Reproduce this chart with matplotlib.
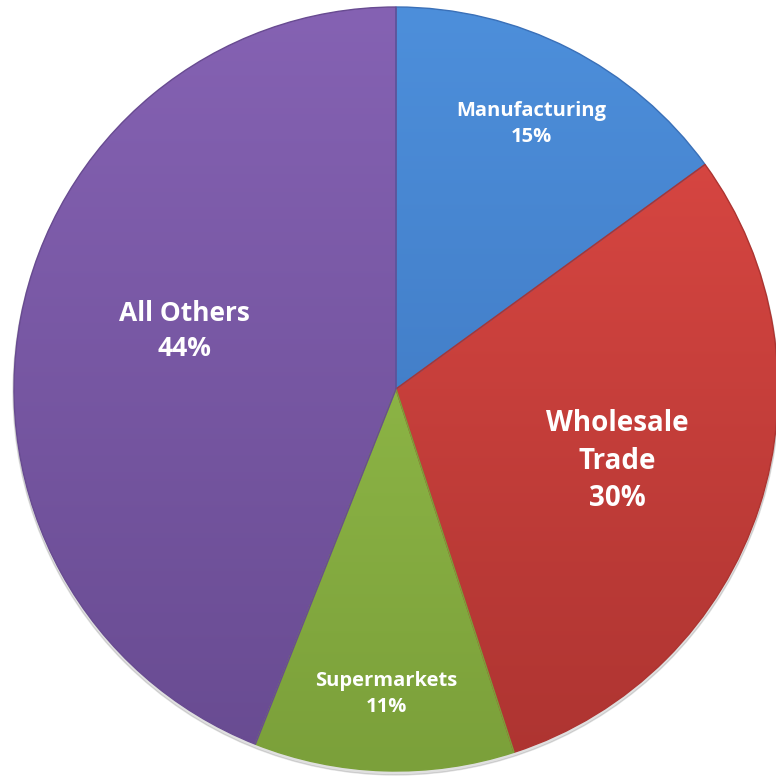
import numpy as np
import matplotlib.pyplot as plt
from matplotlib.colors import LinearSegmentedColormap

plt.rcParams['font.family'] = ['Open Sans', 'DejaVu Sans']

# Data
categories = ['Manufacturing', 'Wholesale\nTrade', 'Supermarkets', 'All Others']
shares = [15, 30, 11, 44]

# Styling (top colour, bottom colour) per slice, label placement and font size
top_colors = ['#4d8fdb', '#e04a45', '#9cc750', '#8562b3']
bottom_colors = ['#3a70b8', '#ad3431', '#7ba03a', '#684b91']
label_radius = [0.78, 0.61, 0.80, 0.575]
label_turn = [0, 0, 0, -4.5]   # degrees off the slice bisector
label_size = [14.5, 20, 14.5, 19]

W, H = 776, 778
cx, cy, R = 396, H - 389, 382

fig = plt.figure(figsize=(W / 100, H / 100), dpi=100)
ax = fig.add_axes([0, 0, 1, 1])

# faint shadow under the pie
shadow = plt.Circle((cx, cy - 3), R + 1, color='#000000', alpha=0.12, zorder=0.5)
ax.add_patch(shadow)

wedges, _ = ax.pie(shares, startangle=90, counterclock=False,
                   center=(cx, cy), radius=R,
                   wedgeprops=dict(linewidth=1.0))

ax.set_xlim(0, W)
ax.set_ylim(0, H)
ax.set_aspect('equal')
ax.axis('off')

# vertical gradient inside each wedge, Excel style
grad = np.linspace(0, 1, 256).reshape(-1, 1)
for w, top, bot in zip(wedges, top_colors, bottom_colors):
    w.set_edgecolor(bot)
    cmap = LinearSegmentedColormap.from_list('g', [bot, top])
    im = ax.imshow(grad, cmap=cmap, origin='lower', aspect='auto',
                   extent=(cx - R, cx + R, cy - R, cy + R), zorder=1.5)
    im.set_clip_path(w)
    w.set_zorder(2)
    w.set_fill(False)

# labels
for w, name, pct, r, turn, fs in zip(wedges, categories, shares,
                                     label_radius, label_turn, label_size):
    ang = np.deg2rad((w.theta1 + w.theta2) / 2 + turn)
    x = cx + r * R * np.cos(ang)
    y = cy + r * R * np.sin(ang)
    ax.text(x, y, f'{name}\n{pct}%', ha='center', va='center',
            color='white', fontsize=fs, fontweight='bold',
            linespacing=1.4, zorder=3)

fig.savefig('out.png', dpi=100, facecolor='white')
